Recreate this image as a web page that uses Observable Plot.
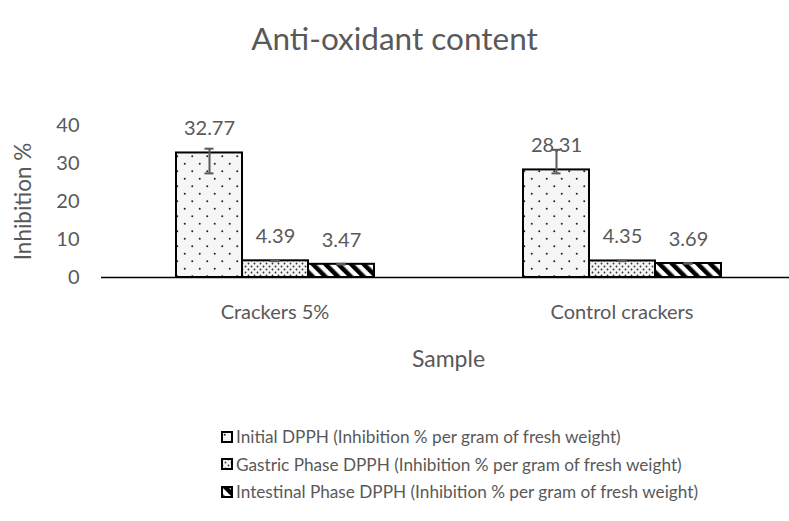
<!DOCTYPE html>
<html>
<head>
<meta charset="utf-8">
<script src="https://cdn.jsdelivr.net/npm/d3@7"></script>
<script src="https://cdn.jsdelivr.net/npm/@observablehq/plot@0.6"></script>
<style>
  html, body { margin: 0; padding: 0; background: #fff; }
  #wrap { position: relative; width: 789px; height: 521px; font-family: Lato, "Open Sans", sans-serif; color: #595959; overflow: hidden; }
  #title { position: absolute; left: 0; top: 18px; width: 789px; text-align: center; font-size: 31.5px; line-height: 40px; }
  #chart { position: absolute; left: 0; top: 70px; }
  #legend { position: absolute; left: 221px; top: 423px; font-size: 17.2px; }
  .item { display: flex; align-items: center; height: 27.5px; white-space: nowrap; }
  .item svg { margin-right: 3px; }
</style>
</head>
<body>
<div id="wrap">
  <div id="title">Anti-oxidant content</div>
  <div id="chart"></div>
  <div id="legend"></div>
</div>
<script>
// ---- data ----
const groups = ["Crackers 5%", "Control crackers"];
const seriesKeys = ["Initial", "Gastric", "Intestinal"];
const seriesLabels = [
  "Initial DPPH (Inhibition % per gram of fresh weight)",
  "Gastric Phase DPPH (Inhibition % per gram of fresh weight)",
  "Intestinal Phase DPPH (Inhibition % per gram of fresh weight)"
];
const crackers5Values = [32.77, 4.39, 3.47];
const controlValues = [28.31, 4.35, 3.69];
const crackers5ErrLow = [27.4, 4.3, 3.4];
const crackers5ErrHigh = [33.9, 4.5, 3.6];
const controlErrLow = [27.4, 4.3, 3.6];
const controlErrHigh = [33.6, 4.45, 3.8];
const yTicks = [0, 10, 20, 30, 40];
const xTitle = "Sample";
const yTitle = "Inhibition %";
const patternIds = ["pInit", "pGastric", "pIntestinal"];

const values = [crackers5Values, controlValues];
const lows = [crackers5ErrLow, controlErrLow];
const highs = [crackers5ErrHigh, controlErrHigh];
const data = [];
groups.forEach((g, gi) => seriesKeys.forEach((s, si) => data.push({
  group: g, series: s, value: values[gi][si], lo: lows[gi][si], hi: highs[gi][si]
})));

const textColor = "#595959";

const chart = Plot.plot({
  width: 789,
  height: 320,
  marginLeft: 100,
  marginRight: 0,
  marginTop: 55,
  marginBottom: 113,
  style: { fontFamily: "Lato, 'Open Sans', sans-serif", color: textColor, background: "transparent", overflow: "visible" },
  fx: { domain: groups, range: [100, 795], padding: 0, label: null },
  x: { domain: seriesKeys, paddingInner: 0, paddingOuter: 1.093, axis: null },
  y: { domain: [0, 40] },
  color: { domain: seriesKeys, range: patternIds.map(id => `url(#${id})`) },
  marks: [
    Plot.barY(data, { fx: "group", x: "series", y: "value", fill: "series", stroke: "black", strokeWidth: 2 }),
    Plot.ruleX(data, { fx: "group", x: "series", y1: "lo", y2: "hi", stroke: textColor, strokeWidth: 2 }),
    Plot.tickY(data, { fx: "group", x: "series", y: "lo", stroke: textColor, strokeWidth: 2, insetLeft: 28.5, insetRight: 28.5 }),
    Plot.tickY(data, { fx: "group", x: "series", y: "hi", stroke: textColor, strokeWidth: 2, insetLeft: 28.5, insetRight: 28.5 }),
    Plot.text(data, { fx: "group", x: "series", y: "value", text: d => d.value.toFixed(2), dy: -24, fontSize: 20, fill: textColor }),
    Plot.ruleY([0], { stroke: "black", strokeWidth: 1.5 }),
    Plot.axisY({ ticks: yTicks, tickSize: 0, tickPadding: 22, fontSize: 20, fill: textColor, stroke: "black", line: true, label: null }),
    Plot.axisFx({ anchor: "bottom", tickSize: 0, tickPadding: 27, fontSize: 20, fill: textColor, label: null }),
    Plot.text([xTitle], { facet: "super", frameAnchor: "bottom", lineAnchor: "middle", dy: 82, fontSize: 23, fill: textColor }),
    Plot.text([yTitle], { facet: "super", frameAnchor: "left", lineAnchor: "middle", textAnchor: "middle", rotate: -90, dx: -78, fontSize: 22.5, fill: textColor })
  ]
});

// patterns
const svg = d3.select(chart);
const defs = svg.insert("defs", ":first-child");
const p1 = defs.append("pattern").attr("id", "pInit").attr("patternUnits", "userSpaceOnUse").attr("width", 15).attr("height", 15);
p1.append("rect").attr("width", 15).attr("height", 15).attr("fill", "#f6f6f6");
p1.append("circle").attr("cx", 3.75).attr("cy", 3.75).attr("r", 1).attr("fill", "#222");
p1.append("circle").attr("cx", 11.25).attr("cy", 11.25).attr("r", 1).attr("fill", "#222");
const p2 = defs.append("pattern").attr("id", "pGastric").attr("patternUnits", "userSpaceOnUse").attr("width", 6).attr("height", 6);
p2.append("rect").attr("width", 6).attr("height", 6).attr("fill", "#f4f4f4");
p2.append("circle").attr("cx", 1.5).attr("cy", 1.5).attr("r", 0.9).attr("fill", "#333");
p2.append("circle").attr("cx", 4.5).attr("cy", 4.5).attr("r", 0.9).attr("fill", "#333");
const p3 = defs.append("pattern").attr("id", "pIntestinal").attr("patternUnits", "userSpaceOnUse").attr("width", 9).attr("height", 9).attr("patternTransform", "rotate(-45)");
p3.append("rect").attr("width", 9).attr("height", 9).attr("fill", "#fff");
p3.append("rect").attr("width", 4.5).attr("height", 9).attr("fill", "#000");

document.getElementById("chart").appendChild(chart);

// legend
const legend = d3.select("#legend");
seriesKeys.forEach((k, i) => {
  const item = legend.append("div").attr("class", "item");
  const s = item.append("svg").attr("width", 12).attr("height", 12);
  s.append("rect").attr("x", 1).attr("y", 1).attr("width", 10).attr("height", 10)
    .attr("fill", `url(#${patternIds[i]})`).attr("stroke", "black").attr("stroke-width", 2);
  item.append("span").text(seriesLabels[i]);
});
</script>
</body>
</html>
